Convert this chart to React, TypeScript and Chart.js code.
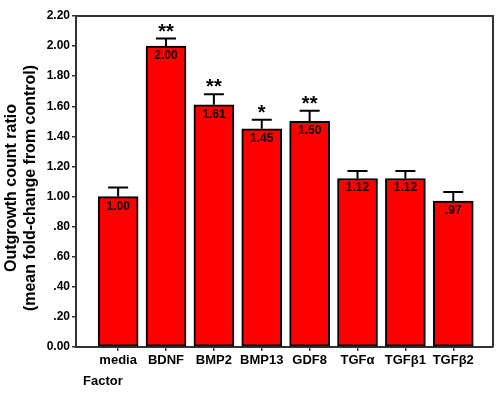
import React, { useEffect, useRef } from "react";
import Chart from "chart.js/auto";

const categories = ["media", "BDNF", "BMP2", "BMP13", "GDF8", "TGFα", "TGFβ1", "TGFβ2"];
const means = [1.0, 2.0, 1.61, 1.45, 1.5, 1.12, 1.12, 0.97];
const errors = [0.06, 0.05, 0.07, 0.06, 0.07, 0.05, 0.05, 0.06];
const valueLabels = ["1.00", "2.00", "1.61", "1.45", "1.50", "1.12", "1.12", ".97"];
const significance = ["", "**", "**", "*", "**", "", "", ""];
const yTitleLines = ["Outgrowth count ratio", "(mean fold-change from control)"];
const xTitle = "Factor";
const yMin = 0;
const yMax = 2.2;
const yStep = 0.2;

const FONT = "'Liberation Sans', Arial, Helvetica, sans-serif";

function formatYTick(v: number): string {
  const s = v.toFixed(2);
  if (v > 0 && v < 1) return s.slice(1);
  return s;
}

export default function App() {
  const ref = useRef<HTMLCanvasElement | null>(null);

  useEffect(() => {
    document.body.style.margin = "0";
    const canvas = ref.current;
    if (!canvas) return;

    const decor = {
      id: "decor",
      afterDatasetsDraw(chart: any) {
        const ctx = chart.ctx;
        const area = chart.chartArea;
        const ys = chart.scales.y;
        const meta = chart.getDatasetMeta(0);
        ctx.save();
        // frame top and right
        ctx.strokeStyle = "#333";
        ctx.lineWidth = 2;
        ctx.beginPath();
        ctx.moveTo(area.left, area.top);
        ctx.lineTo(area.right, area.top);
        ctx.lineTo(area.right, area.bottom);
        ctx.stroke();

        meta.data.forEach((bar: any, i: number) => {
          const x = bar.x;
          const topY = ys.getPixelForValue(means[i]);
          const capY = ys.getPixelForValue(means[i] + errors[i]);
          // error bar
          ctx.strokeStyle = "#000";
          ctx.lineWidth = 2;
          ctx.beginPath();
          ctx.moveTo(x, topY);
          ctx.lineTo(x, capY);
          ctx.moveTo(x - 10, capY);
          ctx.lineTo(x + 10, capY);
          ctx.stroke();
          // value label
          ctx.fillStyle = "#000";
          ctx.font = `bold 12px ${FONT}`;
          ctx.textAlign = "center";
          ctx.textBaseline = "alphabetic";
          ctx.fillText(valueLabels[i], x, topY + 13);
          // significance stars
          if (significance[i]) {
            ctx.font = `bold 20px ${FONT}`;
            ctx.fillText(significance[i], x, capY - 1);
          }
        });

        // y title (two lines, rotated)
        ctx.font = `bold 16px ${FONT}`;
        ctx.fillStyle = "#000";
        ctx.textAlign = "center";
        ctx.textBaseline = "alphabetic";
        const cy = 188;
        const baselines = [16, 35];
        yTitleLines.forEach((t, k) => {
          ctx.save();
          ctx.translate(baselines[k], cy);
          ctx.rotate(-Math.PI / 2);
          ctx.fillText(t, 0, 0);
          ctx.restore();
        });

        // x title
        ctx.font = `bold 13px ${FONT}`;
        ctx.textAlign = "left";
        ctx.textBaseline = "middle";
        ctx.fillText(xTitle, 83, 381);
        ctx.restore();
      },
    };

    const chart = new Chart(canvas, {
      type: "bar",
      data: {
        datasets: [
          {
            data: means.map((v, i) => ({ x: i, y: v })),
            backgroundColor: "#ff0000",
            borderColor: "#000",
            borderWidth: 2,
            borderSkipped: false,
            barThickness: 40,
          },
        ],
      },
      options: {
        responsive: false,
        animation: false,
        events: [],
        layout: { padding: { top: 16, right: 7, left: 0, bottom: 0 } },
        plugins: {
          legend: { display: false },
          tooltip: { enabled: false },
        },
        scales: {
          x: {
            type: "linear",
            offset: false,
            min: -0.88,
            max: 7.83,
            afterFit: (s: any) => {
              s.height = 47;
            },
            afterBuildTicks: (s: any) => {
              s.ticks = categories.map((_, i) => ({ value: i }));
            },
            ticks: {
              autoSkip: false,
              maxRotation: 0,
              color: "#000",
              padding: 2,
              font: { family: FONT, size: 13, weight: "bold" },
              callback: (v: any) => categories[v as number] ?? "",
            },
            grid: {
              offset: false,
              drawOnChartArea: false,
              drawTicks: true,
              tickLength: 4,
              color: "#333",
              lineWidth: 1.5,
            },
            border: { display: true, color: "#333", width: 2 },
          },
          y: {
            type: "linear",
            min: yMin,
            max: yMax,
            afterFit: (s: any) => {
              s.width = 76;
            },
            afterBuildTicks: (s: any) => {
              const t = [];
              for (let k = 0; k <= Math.round((yMax - yMin) / yStep); k++) {
                t.push({ value: +(yMin + k * yStep).toFixed(2) });
              }
              s.ticks = t;
            },
            ticks: {
              color: "#000",
              padding: 2,
              font: { family: FONT, size: 12, weight: "bold" },
              callback: (v: any) => formatYTick(Number(v)),
            },
            grid: {
              drawOnChartArea: false,
              drawTicks: true,
              tickLength: 4,
              color: "#333",
              lineWidth: 1.5,
            },
            border: { display: true, color: "#333", width: 2 },
          },
        },
      },
      plugins: [decor],
    } as any);

    return () => chart.destroy();
  }, []);

  return <canvas ref={ref} width={500} height={394} style={{ display: "block" }} />;
}
